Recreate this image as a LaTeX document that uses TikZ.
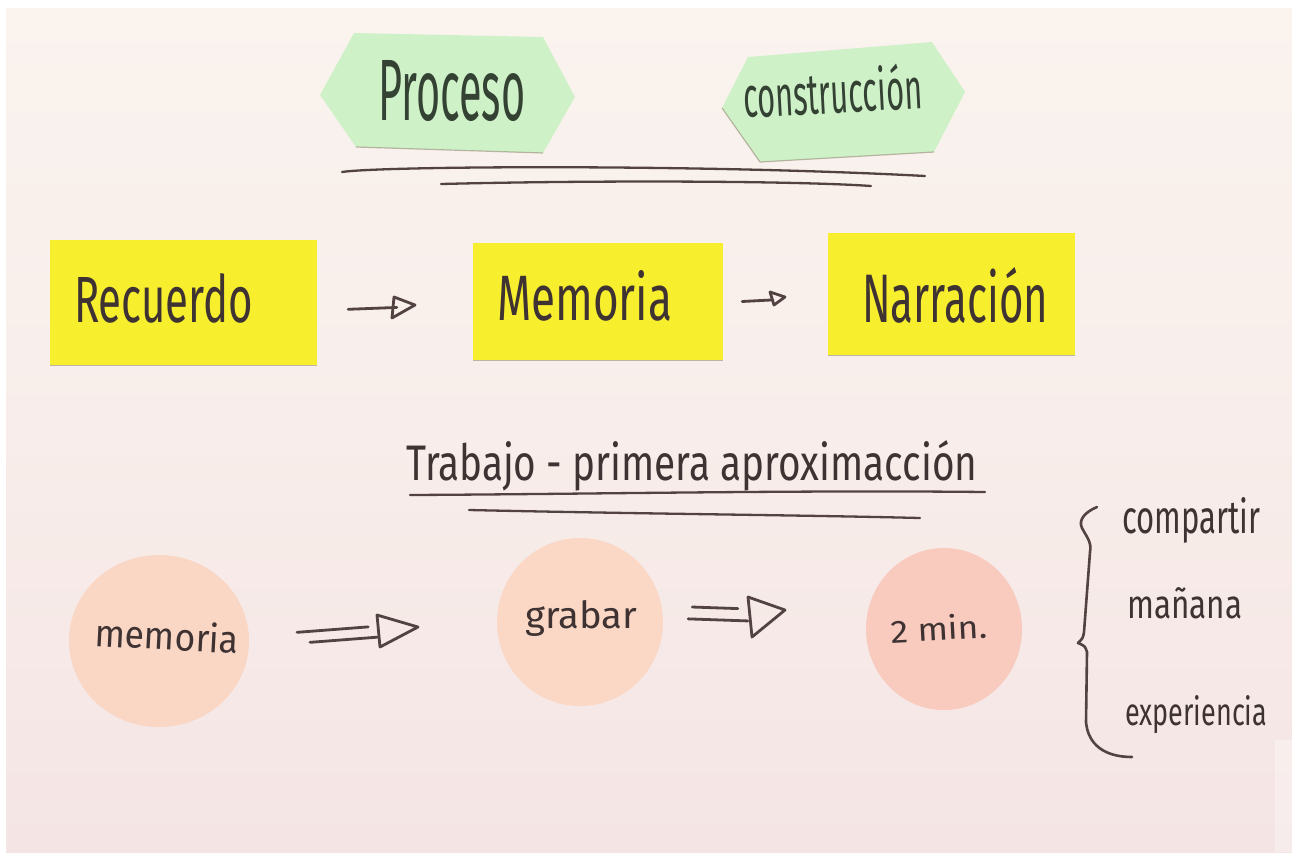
\documentclass[tikz,border=0pt]{standalone}
\usepackage{graphicx}
\usepackage{fontspec}
\newfontfamily\handfont{Fira Sans}
\usetikzlibrary{shapes.geometric,calc}
\definecolor{paperTop}{RGB}{250,243,238}
\definecolor{paperMid}{RGB}{248,237,234}
\definecolor{paperBot}{RGB}{244,229,228}
\definecolor{stickyG}{RGB}{207,241,200}
\definecolor{stickyY}{RGB}{247,239,45}
\definecolor{peachA}{RGB}{250,214,197}
\definecolor{peachB}{RGB}{251,216,197}
\definecolor{peachC}{RGB}{249,202,190}
\definecolor{inkline}{RGB}{82,66,66}
\definecolor{inktext}{RGB}{62,50,50}
\definecolor{inkgreen}{RGB}{52,66,52}
\definecolor{shadowc}{RGB}{150,140,120}
\newcommand{\handtxt}[3]{\resizebox{#1}{#2}{#3}}
\begin{document}
\begin{tikzpicture}[x=1pt,y=-1pt,
  ink/.style={draw=inkline, line width=2.8pt, line cap=round, line join=round},
  hand/.style={inner sep=0pt, text=inktext, font=\handfont, anchor=base west},
  ybox/.style={rectangle, fill=stickyY, inner sep=0pt, draw=none},
  disc/.style={ellipse, inner sep=0pt, draw=none},
  hexa/.style={fill=stickyG, draw=none},
  shadowedge/.style={draw=shadowc, line width=1.2pt, opacity=0.6}
]
\useasboundingbox (0,0) rectangle (1292,852);
\fill[white] (0,0) rectangle (1292,852);
\shade[top color=paperTop, bottom color=paperBot, middle color=paperMid] (6,8) rectangle (1292,852);
\fill[white, opacity=0.3] (1275,740) rectangle (1292,852);

% green hexagons
\path[hexa] (320,95) -- (354,33) -- (543,37) -- (575,97) -- (543,153) -- (356,147) -- cycle;
\draw[shadowedge] (356,147) -- (543,153);
\path[hexa] (722,108) -- (748,57) -- (932,42) -- (965,92) -- (934,152) -- (760,162) -- cycle;
\draw[shadowedge] (722,108) -- (760,162) -- (934,152);
\node[hand, text=inkgreen] (tProc) at (378,120) {\handtxt{147pt}{60pt}{Proceso}};
\node[hand, text=inkgreen, rotate=3] (tCons) at (744,118) {\handtxt{179pt}{46pt}{construcción}};

% double underline top
\draw[ink, line width=2.3pt] (342,172) .. controls (380,166) and (700,164) .. (925,176);
\draw[ink, line width=2.3pt] (441,184) .. controls (600,180) and (800,181) .. (871,186);

% yellow boxes
\node[ybox, minimum width=267pt, minimum height=125pt] (rec) at (183.5,302.5) {};
\node[ybox, minimum width=250pt, minimum height=117pt] (mem) at (598,301.5) {};
\node[ybox, minimum width=247pt, minimum height=122pt] (nar) at (951.5,294) {};
\draw[shadowedge] (rec.south west) -- (rec.south east);
\draw[shadowedge] (mem.south west) -- (mem.south east);
\draw[shadowedge] (nar.south west) -- (nar.south east);
\node[hand] (tRec) at (74,322) {\handtxt{179pt}{49pt}{Recuerdo}};
\node[hand] (tMem) at (497,320) {\handtxt{175pt}{50pt}{Memoria}};
\node[hand] (tNar) at (862,322) {\handtxt{186pt}{55pt}{Narración}};

% small arrows
\draw[ink, shorten <=31pt, shorten >=76pt] ([yshift=-8pt]rec.east) -- ([yshift=-3pt]mem.west);
\coordinate (t1) at (415,305);
\draw[ink] ($(t1)+(-21,-8)$) -- (t1) -- ($(t1)+(-23,13)$) -- cycle;
\draw[ink, shorten <=19pt, shorten >=55pt] ([yshift=-1pt]mem.east) -- ([yshift=-3pt]nar.west);
\coordinate (t2) at (785,297);
\draw[ink] ($(t2)+(-15,-5)$) -- (t2) -- ($(t2)+(-11,8)$) -- cycle;

% title second part
\node[hand] (tTrab) at (406,480) {\handtxt{571pt}{40pt}{Trabajo - primera aproximacción}};
\draw[ink, line width=2.3pt] (410,495) .. controls (600,494) and (800,490) .. (985,492);
\draw[ink, line width=2.3pt] (469,510) .. controls (650,514) and (800,515) .. (920,518);

% circles
\node[disc, fill=peachA, minimum width=180pt, minimum height=172pt] (c1) at (159,641) {};
\node[disc, fill=peachB, minimum width=166pt, minimum height=168pt] (c2) at (580,622) {};
\node[disc, fill=peachC, minimum width=156pt, minimum height=162pt] (c3) at (944,629) {};
\node[hand, rotate=-3] (tC1) at (94,646) {\handtxt{144pt}{30pt}{memoria}};
\node[hand] (tC2) at (525,628) {\handtxt{112pt}{28pt}{grabar}};
\node[hand, rotate=3] (tC3) at (891,643) {\handtxt{97pt}{25pt}{2 min.}};

% double arrows
\draw[ink, shorten <=48pt, shorten >=129pt] ([yshift=5pt]c1.east) -- ([yshift=5pt]c2.west);
\draw[ink, shorten <=61pt, shorten >=120pt] ([yshift=-6pt]c1.east) -- ([yshift=-6pt]c2.west);
\coordinate (d1) at (418,627);
\draw[ink] ($(d1)+(-41,-12)$) -- (d1) -- ($(d1)+(-38,20)$) -- cycle;
\draw[ink, shorten <=29pt, shorten >=128pt] ([yshift=16pt]c2.east) -- ([yshift=16pt]c3.west);
\draw[ink, shorten <=25pt, shorten >=118pt] ([yshift=4pt]c2.east) -- ([yshift=4pt]c3.west);
\coordinate (d2) at (785,610);
\draw[ink] ($(d2)+(-37,-13)$) -- (d2) -- ($(d2)+(-33,27)$) -- cycle;

% brace and list
\draw[ink, line width=2.6pt] (1097,507) .. controls (1085,512) and (1078,520) .. (1082,528)
  .. controls (1086,536) and (1092,542) .. (1090,552) -- (1084,632)
  .. controls (1083,638) .. (1078,643) .. controls (1085,646) .. (1087,652)
  -- (1086,722) .. controls (1088,745) and (1105,757) .. (1132,757);
\node[hand] (l1) at (1122,533) {\handtxt{138pt}{36pt}{compartir}};
\node[hand] (l2) at (1127,618) {\handtxt{115pt}{31pt}{mañana}};
\node[hand] (l3) at (1125,725) {\handtxt{142pt}{30pt}{experiencia}};
\end{tikzpicture}
\end{document}
